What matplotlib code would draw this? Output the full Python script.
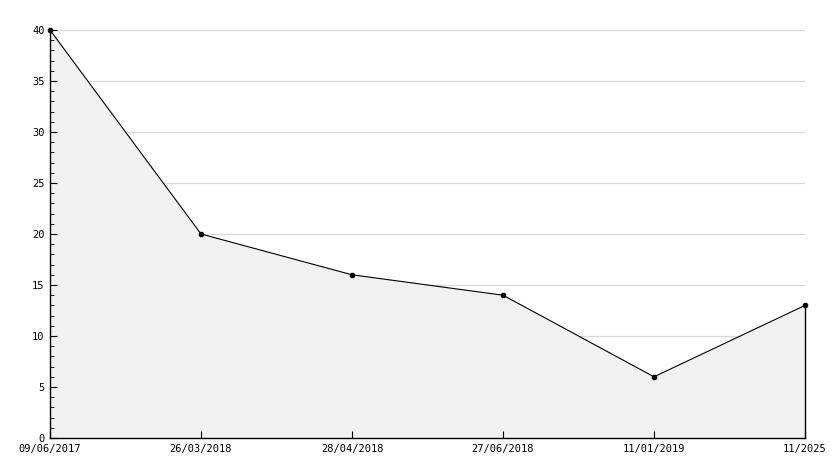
import matplotlib

matplotlib.use("Agg")
import matplotlib.pyplot as plt
from matplotlib.ticker import MultipleLocator

DATES = ["09/06/2017", "26/03/2018", "28/04/2018", "27/06/2018", "11/01/2019", "11/2025"]
VALUES = [40, 20, 16, 14, 6, 13]

W, H = 834, 468
fig = plt.figure(figsize=(W / 100, H / 100), dpi=100)
ax = fig.add_axes((50 / W, (H - 438) / H, 755 / W, 408 / H))

xs = list(range(len(DATES)))
for y in range(5, 41, 5):
    ax.axhline(y, color="#d9d9d9", linewidth=0.9, zorder=0)
ax.fill_between(xs, VALUES, 0, color="#f1f1f1", linewidth=0, zorder=1)
ax.plot([xs[-1], xs[-1]], [0, VALUES[-1]], color="black", linewidth=1.0,
        zorder=2, clip_on=False)
ax.plot(xs, VALUES, color="black", linewidth=0.8, marker="8", markersize=3.8,
        zorder=3, clip_on=False)

ax.set_xlim(0, len(DATES) - 1)
ax.set_ylim(0, 40)
ax.set_xticks(xs)
ax.set_xticklabels(DATES)
ax.yaxis.set_major_locator(MultipleLocator(5))
ax.yaxis.set_minor_locator(MultipleLocator(1))

for s in ("top", "right"):
    ax.spines[s].set_visible(False)
for s in ("left", "bottom"):
    ax.spines[s].set_linewidth(1.0)
    ax.spines[s].set_zorder(4)
ax.tick_params(axis="both", direction="in", labelsize=7.5, pad=4)
ax.tick_params(axis="y", which="major", length=5)
ax.tick_params(axis="y", which="minor", length=3, direction="in")
ax.tick_params(axis="x", length=5)
for lbl in ax.get_xticklabels() + ax.get_yticklabels():
    lbl.set_family("DejaVu Sans Mono")

fig.savefig("out.png", dpi=100)
